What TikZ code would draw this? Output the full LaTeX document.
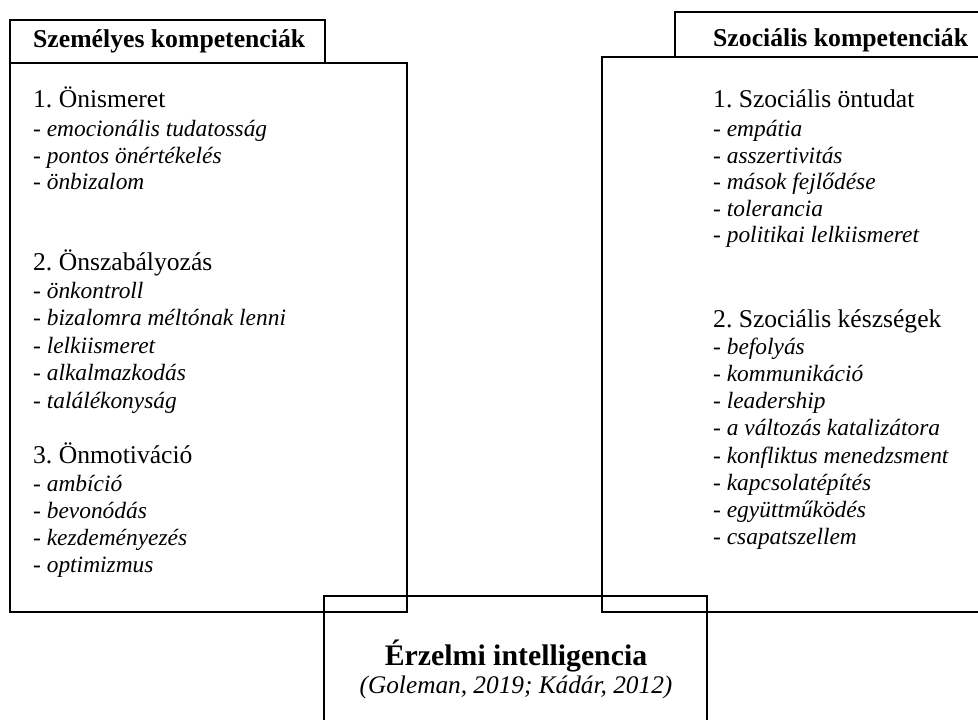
\documentclass[tikz,border=0pt]{standalone}
\usepackage{fontspec}
\setmainfont{Liberation Serif}
\frenchspacing

\tikzset{
  keret/.style={draw=black, line width=1.6pt},
  cim/.style={anchor=base west, inner sep=0pt, font=\fontsize{25.7}{30}\selectfont\bfseries},
  fejlec/.style={anchor=base west, inner sep=0pt, font=\fontsize{25.6}{30}\selectfont},
  elem/.style={anchor=base west, inner sep=0pt, font=\fontsize{23.4}{27}\selectfont\itshape},
}

\begin{document}
\begin{tikzpicture}[x=1pt, y=-1pt]
\clip (0,0) rectangle (978,720);
\fill[white] (0,0) rectangle (978,720);
% keretek
\draw[keret] (10,20) rectangle (325,63);
\draw[keret] (10,63) rectangle (407,612);
\draw[keret] (675,12) rectangle (990,57);
\draw[keret] (602,57) rectangle (990,612);
\draw[keret] (324,596) rectangle (707,730);
% cimek
\node[cim] (szemelyes) at (33,47) {Személyes kompetenciák};
\node[cim] (szocialis) at (713,46) {Szociális kompetenciák};
% szemelyes kompetenciak
\node[fejlec] (onismeret) at (33,107) {1. Önismeret};
\foreach \t [count=\i] in {emocionális tudatosság, pontos önértékelés, önbizalom}
  \node[elem] (onismeret-\i) at (33,{110+26.5*\i}) {- \t};
\node[fejlec] (onszab) at (33,270) {2. Önszabályozás};
\foreach \t [count=\i] in {önkontroll, bizalomra méltónak lenni, lelkiismeret, alkalmazkodás, találékonyság}
  \node[elem] (onszab-\i) at (33,{271+27.4*\i}) {- \t};
\node[fejlec] (onmot) at (33,463) {3. Önmotiváció};
\foreach \t [count=\i] in {ambíció, bevonódás, kezdeményezés, optimizmus}
  \node[elem] (onmot-\i) at (33,{464+27*\i}) {- \t};
% szocialis kompetenciak
\node[fejlec] (ontudat) at (713,107) {1. Szociális öntudat};
\foreach \t [count=\i] in {empátia, asszertivitás, mások fejlődése, tolerancia, politikai lelkiismeret}
  \node[elem] (ontudat-\i) at (713,{110+26.5*\i}) {- \t};
\node[fejlec] (keszseg) at (713,327) {2. Szociális készségek};
\foreach \t [count=\i] in {befolyás, kommunikáció, leadership, a változás katalizátora, konfliktus menedzsment, kapcsolatépítés, együttműködés, csapatszellem}
  \node[elem] (keszseg-\i) at (713,{327+27.2*\i}) {- \t};
% erzelmi intelligencia
\node[anchor=base, inner sep=0pt, font=\fontsize{29.8}{34}\selectfont\bfseries] (ei) at (516,665) {Érzelmi intelligencia};
\node[anchor=base, inner sep=0pt, font=\fontsize{25.3}{30}\selectfont\itshape] (forras) at (516,693) {(Goleman, 2019; Kádár, 2012)};
\end{tikzpicture}
\end{document}
